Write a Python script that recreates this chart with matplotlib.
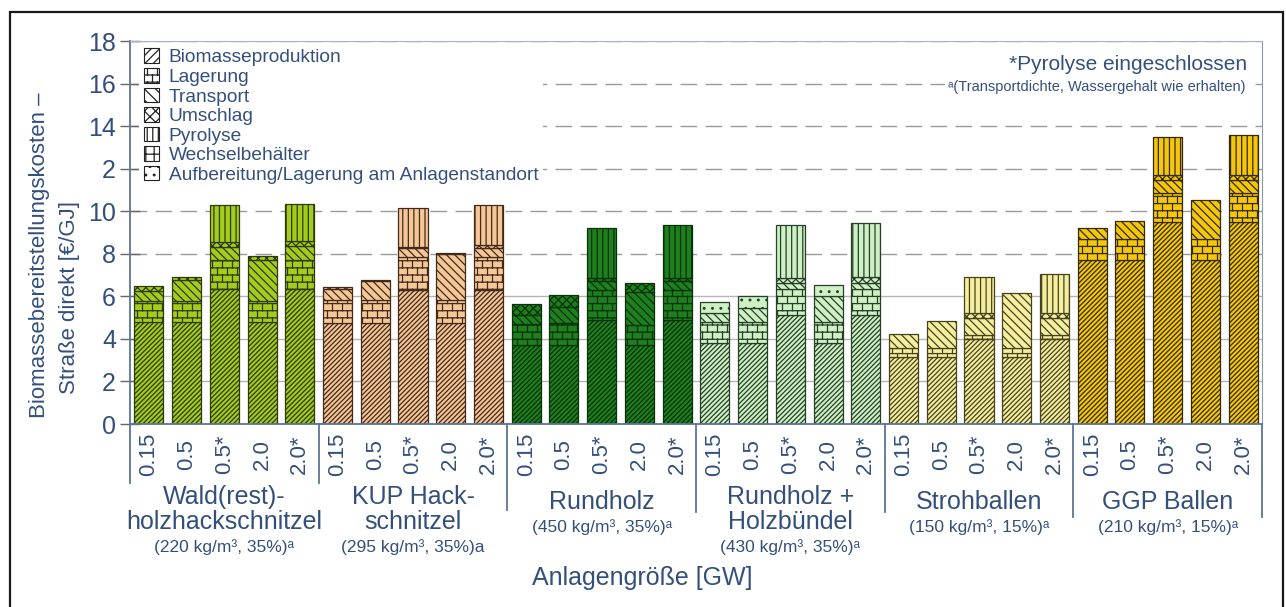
import numpy as np
import matplotlib
matplotlib.use("Agg")
import matplotlib.pyplot as plt
import matplotlib.hatch as mhatch
import matplotlib.transforms as mtransforms
from matplotlib.path import Path
from matplotlib.patches import Patch, Rectangle

# ----------------------------- data -----------------------------
groups = ["Wald(rest)-\nholzhackschnitzel", "KUP Hack-\nschnitzel", "Rundholz",
          "Rundholz +\nHolzbündel", "Strohballen", "GGP Ballen"]
group_notes = ["(220 kg/m³, 35%)ᵃ", "(295 kg/m³, 35%)a", "(450 kg/m³, 35%)ᵃ",
               "(430 kg/m³, 35%)ᵃ", "(150 kg/m³, 15%)ᵃ", "(210 kg/m³, 15%)ᵃ"]
sizes = ["0.15", "0.5", "0.5*", "2.0", "2.0*"]
components = ["Biomasseproduktion", "Lagerung", "Transport", "Umschlag", "Pyrolyse",
              "Wechselbehälter", "Aufbereitung/Lagerung am Anlagenstandort"]
ytick_values = [0, 2, 4, 6, 8, 10, 12, 14, 16, 18]
ytick_labels = ["0", "2", "4", "6", "8", "10", "2", "14", "16", "18"]

biomasse = [4.80, 4.80, 6.35, 4.80, 6.35,
            4.75, 4.75, 6.30, 4.75, 6.30,
            3.70, 3.70, 4.90, 3.70, 4.90,
            3.80, 3.80, 5.10, 3.80, 5.10,
            3.15, 3.15, 4.00, 3.15, 4.00,
            7.70, 7.70, 9.50, 7.70, 9.50]
lagerung = [1.00, 1.00, 1.35, 1.00, 1.35,
            1.10, 1.10, 1.55, 1.10, 1.55,
            1.00, 1.03, 1.40, 0.95, 1.40,
            1.00, 1.00, 1.25, 1.00, 1.25,
            0.40, 0.40, 0.20, 0.40, 0.20,
            1.00, 1.00, 1.35, 1.00, 1.35]
transport = [0.45, 0.95, 0.63, 1.90, 0.65,
             0.50, 0.85, 0.40, 2.15, 0.40,
             0.40, 0.77, 0.40, 1.57, 0.40,
             0.40, 0.65, 0.30, 1.20, 0.30,
             0.70, 1.30, 0.80, 2.60, 0.80,
             0.50, 0.85, 0.60, 1.85, 0.60]
umschlag = [0.25, 0.15, 0.24, 0.20, 0.25,
            0.10, 0.05, 0.05, 0.05, 0.15,
            0.55, 0.55, 0.15, 0.42, 0.15,
            0.00, 0.00, 0.20, 0.00, 0.25,
            0.00, 0.00, 0.20, 0.00, 0.20,
            0.00, 0.00, 0.25, 0.00, 0.25]
pyrolyse = [0.00, 0.00, 1.72, 0.00, 1.75,
            0.00, 0.00, 1.85, 0.00, 1.90,
            0.00, 0.00, 2.35, 0.00, 2.50,
            0.00, 0.00, 2.50, 0.00, 2.55,
            0.00, 0.00, 1.70, 0.00, 1.85,
            0.00, 0.00, 1.80, 0.00, 1.90]
wechselbehaelter = [0.00, 0.00, 0.00, 0.00, 0.00,
                    0.00, 0.00, 0.00, 0.00, 0.00,
                    0.00, 0.00, 0.00, 0.00, 0.00,
                    0.00, 0.00, 0.00, 0.00, 0.00,
                    0.00, 0.00, 0.00, 0.00, 0.00,
                    0.00, 0.00, 0.00, 0.00, 0.00]
aufbereitung = [0.00, 0.00, 0.00, 0.00, 0.00,
                0.00, 0.00, 0.00, 0.00, 0.00,
                0.00, 0.00, 0.00, 0.00, 0.00,
                0.55, 0.55, 0.00, 0.55, 0.00,
                0.00, 0.00, 0.00, 0.00, 0.00,
                0.00, 0.00, 0.00, 0.00, 0.00]
series = [biomasse, lagerung, transport, umschlag, pyrolyse, wechselbehaelter, aufbereitung]

# ----------------------------- style -----------------------------
group_fill = ["#A3CC1C", "#F5C797", "#1F7F1F", "#CDF0C4", "#F4EE9E", "#F4C70E"]
group_hatch = ["#2E3A08", "#43291A", "#083208", "#263F26", "#46421C", "#332A00"]
bar_hatches = ["///////", "OO", "\\\\\\\\", "xxxx", "|||", "++", ".."]
legend_hatches = ["////", "OO", "\\\\\\", "xxx", "|||", "++", ".."]
text_color = "#33507C"
axis_color = "#5B7596"

plt.rcParams["font.family"] = ["Liberation Sans", "DejaVu Sans"]
plt.rcParams["hatch.linewidth"] = 0.9


# custom brick hatch (used for "Lagerung"), bound to the 'O' character
class BrickHatch(mhatch.HatchPatternBase):
    def __init__(self, hatch, density):
        n = hatch.count("O")
        self.rows = 7 * n
        self.cols = 5 * n
        self.num_vertices = 2 * (self.rows + self.rows * self.cols + self.cols) if n else 0

    def set_vertices_and_codes(self, vertices, codes):
        k = 0
        rows, cols = self.rows, self.cols
        ys = [(r + 0.5) / rows for r in range(rows)]
        for y in ys:
            vertices[k] = (0.0, y); vertices[k + 1] = (1.0, y)
            codes[k] = Path.MOVETO; codes[k + 1] = Path.LINETO
            k += 2
        for r in range(rows):
            off = 0.5 * (r % 2)
            y0 = ys[r]
            y1 = min(y0 + 1.0 / rows, 1.0)
            for c in range(cols):
                x = (c + 0.25 + off) / cols
                vertices[k] = (x, y0); vertices[k + 1] = (x, y1)
                codes[k] = Path.MOVETO; codes[k + 1] = Path.LINETO
                k += 2
        off = 0.5 * ((rows - 1) % 2)
        for c in range(cols):
            x = (c + 0.25 + off) / cols
            vertices[k] = (x, 0.0); vertices[k + 1] = (x, ys[0])
            codes[k] = Path.MOVETO; codes[k + 1] = Path.LINETO
            k += 2


mhatch._hatch_types = [t for t in mhatch._hatch_types if t is not mhatch.LargeCircles] + [BrickHatch]

W, H = 1286, 607
fig = plt.figure(figsize=(W / 100, H / 100), dpi=100)
ax = fig.add_axes([130 / W, 1 - 424 / H, 1132 / W, 383 / H])

n_groups = len(groups)
n_sizes = len(sizes)
x = np.arange(n_groups * n_sizes)
fills = [group_fill[i // n_sizes] for i in x]
hcols = [group_hatch[i // n_sizes] for i in x]

bottom = np.zeros(len(x))
for vals, hatch in zip(series, bar_hatches):
    vals = np.asarray(vals, dtype=float)
    m = vals > 0
    if m.any():
        ax.bar(x[m], vals[m], bottom=bottom[m], width=0.77,
               color=[fills[i] for i in x[m]], edgecolor=[hcols[i] for i in x[m]],
               hatch=hatch, linewidth=0.9, zorder=2)
    bottom += vals

# grid lines
for v in ytick_values[1:]:
    if v <= 6:
        ax.axhline(v, color="#B5B5B5", lw=1.0, zorder=0.5)
    else:
        ax.axhline(v, color="#9A9A9A", lw=1.0, ls=(0, (12, 6)), zorder=0.5)

ax.set_xlim(-0.5, n_groups * n_sizes - 0.5)
ax.set_ylim(0, 18)
ax.set_yticks(ytick_values)
ax.set_yticklabels(ytick_labels, fontsize=18, color=text_color)
ax.tick_params(axis="y", direction="inout", length=14, width=1.0, color="#666666", pad=3)
ax.set_xticks(x)
ax.set_xticklabels(sizes * n_groups, rotation=90, fontsize=16, color=text_color)
ax.tick_params(axis="x", length=0, pad=22)
for lab in ax.get_xticklabels():
    lab.set_verticalalignment("center")

ax.spines["left"].set_color(axis_color)
ax.spines["bottom"].set_color(axis_color)
ax.spines["left"].set_linewidth(1.3)
ax.spines["bottom"].set_linewidth(1.3)
ax.spines["top"].set_color("#A8B2C0")
ax.spines["right"].set_color("#8898AE")

# group separators below the axis
tx = mtransforms.blended_transform_factory(ax.transData, fig.transFigure)
sep_bottoms = [483, 483, 510, 512, 512, 517, 517]
for gi, yb in enumerate(sep_bottoms):
    xb = gi * n_sizes - 0.5
    ax.plot([xb, xb], [1 - 424 / H, 1 - yb / H], transform=tx, color=axis_color,
            lw=1.3, clip_on=False, zorder=3)

# group titles and notes
for gi, (name, note) in enumerate(zip(groups, group_notes)):
    cx = gi * n_sizes + (n_sizes - 1) / 2
    lines = name.split("\n")
    first = 502 - 5 * (len(lines) - 1)
    for li, line in enumerate(lines):
        ax.text(cx, 1 - (first + 25 * li) / H, line, transform=tx, ha="center",
                va="center", fontsize=18, color=text_color, clip_on=False)
    last = first + 25 * (len(lines) - 1)
    ax.text(cx, 1 - (last + 25) / H, note, transform=tx, ha="center", va="center",
            fontsize=12.5, color=text_color, clip_on=False)

# legend
handles = [Patch(facecolor="white", edgecolor="#222222", hatch=h, linewidth=0.8)
           for h in legend_hatches]
ax.legend(handles, components, loc="upper left", bbox_to_anchor=(0.008, 0.993),
          fontsize=13.8, frameon=True, framealpha=1, facecolor="white", edgecolor="none",
          handlelength=0.8, handleheight=0.8, handletextpad=0.5, labelspacing=0.08,
          borderpad=0.25, borderaxespad=0, labelcolor=text_color, fancybox=False)

# notes top right
fig.text(1247 / W, 1 - 65 / H, "*Pyrolyse eingeschlossen", ha="right", va="center",
         fontsize=15, color=text_color)
fig.text(1245 / W, 1 - 87 / H, "ᵃ(Transportdichte, Wassergehalt wie erhalten)", ha="right",
         va="center", fontsize=10.5, color=text_color,
         bbox=dict(facecolor="white", edgecolor="none", pad=1.5))

# axis labels
fig.text(40 / W, 1 - 255 / H, "Biomassebereitstellungskosten –", rotation=90,
         ha="center", va="center", fontsize=16, color=text_color)
fig.text(70 / W, 1 - 297 / H, "Straße direkt [€/GJ]", rotation=90,
         ha="center", va="center", fontsize=16, color=text_color)
fig.text(642 / W, 1 - 578 / H, "Anlagengröße [GW]", ha="center", va="center",
         fontsize=18, color=text_color)

# outer frame
fig.add_artist(Rectangle((10 / W, -0.1), 1273 / W, 1.1 - 12 / H, transform=fig.transFigure,
                         fill=False, edgecolor="#1A1A1A", lw=1.6))

fig.savefig("out.png", dpi=100)
